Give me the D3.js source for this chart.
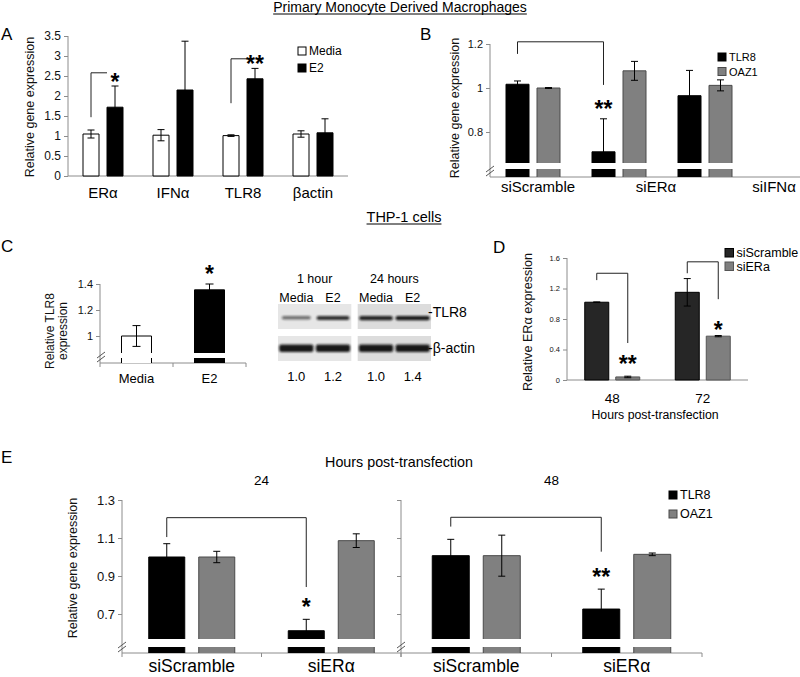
<!DOCTYPE html>
<html>
<head>
<meta charset="utf-8">
<script src="https://cdn.jsdelivr.net/npm/d3@7"></script>
<style>
  body { margin: 0; padding: 0; background: #fff; }
  svg { display: block; }
</style>
</head>
<body>
<svg id="fig" width="800" height="677"></svg>
<script>
// ---------- data ----------
// A: macrophages, media vs E2
const aGenes = ["ERα", "IFNα", "TLR8", "βactin"];
const aMedia = [1.05, 1.02, 1.01, 1.05];
const aMediaErr = [0.10, 0.14, 0.02, 0.08];
const aE2 = [1.72, 2.15, 2.43, 1.08];
const aE2Err = [0.53, 1.22, 0.26, 0.35];
const aTicks = [0, 0.5, 1, 1.5, 2, 2.5, 3, 3.5];

// B: siRNA knockdown in macrophages
const bGroups = ["siScramble", "siERα", "siIFNα"];
const bTLR8 = [1.017, 0.71, 0.965];
const bTLR8Err = [0.015, 0.15, 0.115];
const bOAZ1 = [1.0, 1.078, 1.012];
const bOAZ1Err = [0.002, 0.043, 0.025];
const bTicks = [0.8, 1, 1.2];

// C: THP-1 TLR8
const cGroups = ["Media", "E2"];
const cTLR8 = [1.0, 1.355];
const cTLR8Err = [0.08, 0.045];
const cTicks = [1, 1.2, 1.4];
const blotTimes = ["1 hour", "24 hours"];
const blotLanes = ["Media", "E2"];
const blotRatio = [[1.0, 1.2], [1.0, 1.4]];
const blotTLR8Band = [[0.55, 0.85], [0.9, 0.95]];
const blotActinBand = [[0.95, 0.95], [0.95, 0.95]];

// D: ERα knockdown
const dHours = ["48", "72"];
const dScramble = [1.02, 1.15];
const dScrambleErr = [0.004, 0.18];
const dSiERa = [0.04, 0.575];
const dSiERaErr = [0.01, 0.008];
const dTicks = [0, 0.4, 0.8, 1.2, 1.6];

// E: THP-1 knockdown, 24 and 48 h
const eHours = ["24", "48"];
const eGroups = ["siScramble", "siERα"];
const eTLR8 = [[1.0, 0.612], [1.007, 0.726]];
const eTLR8Err = [[0.07, 0.06], [0.086, 0.105]];
const eOAZ1 = [[1.0, 1.086], [1.007, 1.014]];
const eOAZ1Err = [[0.03, 0.036], [0.108, 0.007]];
const eTicks = [0.7, 0.9, 1.1, 1.3];

// ---------- helpers ----------
const svg = d3.select("#fig");
const FONT = "'Liberation Sans', Arial, Helvetica, sans-serif";
const AX = "#8c8c8c";

svg.append("defs").append("filter").attr("id", "blur")
  .attr("x", "-30%").attr("y", "-100%").attr("width", "160%").attr("height", "300%")
  .append("feGaussianBlur").attr("stdDeviation", 1.3);

function label(x, y, s, size, anchor) {
  return svg.append("text").attr("x", x).attr("y", y)
    .attr("font-family", FONT).attr("font-size", size)
    .attr("text-anchor", anchor || "start").attr("fill", "#000").text(s);
}
function vlabel(cx, cy, s, size) {
  svg.append("text").attr("transform", `translate(${cx},${cy}) rotate(-90)`)
    .attr("text-anchor", "middle").attr("dy", "0.35em")
    .attr("font-family", FONT).attr("font-size", size).attr("fill", "#111").text(s);
}
function title(cx, y, s, size) {
  const t = label(cx, y, s, size, "middle");
  const w = t.node().getComputedTextLength();
  svg.append("line").attr("x1", cx - w / 2).attr("x2", cx + w / 2)
    .attr("y1", y + 2).attr("y2", y + 2).attr("stroke", "#000");
}
function yAxis(y, x0, ticks, size, bottom, showLabels) {
  const g = svg.append("g").attr("transform", `translate(${x0},0)`);
  g.call(d3.axisLeft(y).tickValues(ticks).tickSize(4).tickPadding(3)
    .tickFormat(showLabels === false ? "" : d => String(d)));
  g.attr("font-family", FONT).attr("font-size", size);
  g.select(".domain").remove();
  g.selectAll(".tick line").attr("stroke", AX);
  g.selectAll(".tick text").attr("fill", "#111");
  g.append("line").attr("y1", y(d3.max(ticks))).attr("y2", bottom).attr("stroke", AX);
}
function xAxis(x, y0, x1, withTicks) {
  const r = x.range();
  svg.append("line").attr("x1", r[0]).attr("x2", x1 || r[1])
    .attr("y1", y0).attr("y2", y0).attr("stroke", AX);
  if (withTicks) {
    const pos = x.domain().map(d => x(d)).concat([r[1]]);
    svg.selectAll(null).data(pos).join("line")
      .attr("x1", d => d).attr("x2", d => d).attr("y1", y0).attr("y2", y0 + 4)
      .attr("stroke", AX);
  }
}
function slash(x, y) {
  [0, 4].forEach(o => svg.append("line")
    .attr("x1", x - 4).attr("y1", y + 2 + o).attr("x2", x + 4).attr("y2", y - 4 + o)
    .attr("stroke", "#555"));
}
function star(x, yc, s) {
  svg.append("text").attr("x", x).attr("y", yc + 12).attr("text-anchor", "middle")
    .attr("font-family", FONT).attr("font-size", 23).attr("font-weight", "bold").text(s);
}
function bracket(pts) {
  svg.append("path").attr("d", d3.line()(pts)).attr("fill", "none").attr("stroke", "#222");
}
function legend(x, y, items, size, box) {
  items.forEach((it, i) => {
    const yy = y + i * it.step;
    svg.append("rect").attr("x", x).attr("y", yy - box).attr("width", box).attr("height", box)
      .attr("fill", it.fill).attr("stroke", it.stroke);
    label(x + box + 3, yy, it.name, size);
  });
}
// grouped bars; returns list of drawn bars with positions
function drawBars(x, y, groups, series, o) {
  const n = series.length, span = n * o.w + (n - 1) * o.gap;
  const sub = d3.scaleBand().domain(d3.range(n)).range([-span / 2, span / 2])
    .paddingInner(o.gap / (o.w + o.gap));
  const bottom = o.brk ? o.brk[0] : o.base;
  const items = [];
  groups.forEach((gname, i) => series.forEach((s, j) => items.push({
    i, j, s, v: s.values[i], e: s.errs[i],
    fill: s.fills ? s.fills[i] : s.fill,
    x: x(gname) + x.bandwidth() / 2 + sub(j)
  })));
  const g = svg.append("g");
  g.selectAll("path.bar").data(items).join("path").attr("class", "bar")
    .attr("d", d => `M${d.x},${bottom}V${y(d.v)}H${d.x + o.w}V${bottom}` + (o.brk ? "" : "Z"))
    .attr("fill", d => d.fill).attr("stroke", d => d.s.stroke);
  if (o.brk) {
    g.selectAll("rect.stub").data(items).join("rect").attr("class", "stub")
      .attr("x", d => d.x).attr("y", o.brk[1]).attr("width", o.w)
      .attr("height", o.base - o.brk[1]).attr("fill", d => d.fill);
    g.selectAll("path.side").data(items).join("path").attr("class", "side")
      .attr("d", d => `M${d.x},${o.brk[1]}V${o.base}M${d.x + o.w},${o.brk[1]}V${o.base}`)
      .attr("stroke", d => d.s.stroke);
  }
  const cap = o.cap || 3.5;
  g.selectAll("path.err").data(items.filter(d => d.e > 0)).join("path").attr("class", "err")
    .attr("d", d => {
      const cx = d.x + o.w / 2, t = y(d.v + d.e), b = Math.min(y(d.v - d.e), bottom);
      return `M${cx},${b}V${t}M${cx - cap},${t}H${cx + cap}` +
        (b < bottom - 1 ? `M${cx - cap},${b}H${cx + cap}` : "");
    })
    .attr("stroke", "#000").attr("fill", "none");
  items.w = o.w;
  return items;
}
const at = (items, i, j) => items.find(d => d.i === i && d.j === j);
const mid = (items, i, j) => at(items, i, j).x + items.w / 2;

const BLACK = { fill: "#000", stroke: "#000" };
const GRAY = { fill: "#808080", stroke: "#4a4a4a" };
const WHITE = { fill: "#fff", stroke: "#000" };

// ---------- section titles ----------
title(400, 12, "Primary Monocyte Derived Macrophages", 14);
title(404, 222, "THP-1 cells", 14.5);

// ---------- panel A ----------
label(1, 40, "A", 17);
const yA = d3.scaleLinear().domain([0, 3.5]).range([176, 36]);
const xA = d3.scaleBand().domain(aGenes).range([68, 348]);
yAxis(yA, 68, aTicks, 12, 176);
xAxis(xA, 176);
const barsA = drawBars(xA, yA, aGenes, [
  Object.assign({ values: aMedia, errs: aMediaErr }, WHITE),
  Object.assign({ values: aE2, errs: aE2Err }, BLACK)
], { w: 16, gap: 8, base: 176 });
aGenes.forEach(g => label(xA(g) + xA.bandwidth() / 2, 198, g, 15, "middle"));
vlabel(30, 107, "Relative gene expression", 12.5);
bracket([[mid(barsA, 0, 0), yA(1.47)], [mid(barsA, 0, 0), yA(2.58)], [at(barsA, 0, 1).x, yA(2.58)]]);
bracket([[mid(barsA, 2, 0), yA(1.82)], [mid(barsA, 2, 0), yA(2.93)], [at(barsA, 2, 1).x, yA(2.93)]]);
star(mid(barsA, 0, 1), yA(aE2[0] + aE2Err[0]) - 8, "*");
star(mid(barsA, 2, 1), yA(aE2[2] + aE2Err[2]) - 8, "**");
legend(298, 55, [
  Object.assign({ name: "Media", step: 17 }, WHITE),
  Object.assign({ name: "E2", step: 17 }, BLACK)
], 12, 8);

// ---------- panel B ----------
label(420, 40, "B", 17);
const yB = d3.scaleLinear().domain([0.8, 1.2]).range([132, 44]);
const xB = d3.scaleBand().domain(bGroups).range([490, 748]);
yAxis(yB, 490, bTicks, 11, 177);
xAxis(xB, 177, 800);
const barsB = drawBars(xB, yB, bGroups, [
  Object.assign({ values: bTLR8, errs: bTLR8Err }, BLACK),
  Object.assign({ values: bOAZ1, errs: bOAZ1Err }, GRAY)
], { w: 23, gap: 8, base: 177, brk: [163, 169] });
slash(490, 170);
const xBLab = d3.scalePoint().domain(bGroups).range([538, 774]);
bGroups.forEach(g => label(xBLab(g), 192, g, 15, "middle"));
vlabel(455, 108, "Relative gene expression", 12.5);
bracket([[mid(barsB, 0, 0), yB(1.155)], [mid(barsB, 0, 0), yB(1.21)],
  [mid(barsB, 1, 0), yB(1.21)], [mid(barsB, 1, 0), yB(1.014)]]);
star(mid(barsB, 1, 0), yB(bTLR8[1] + bTLR8Err[1]) - 14, "**");
legend(718, 61, [
  Object.assign({ name: "TLR8", step: 14.5 }, BLACK),
  Object.assign({ name: "OAZ1", step: 14.5 }, GRAY)
], 11, 8);

// ---------- panel C ----------
label(1, 252, "C", 17);
const yC = d3.scaleLinear().domain([1, 1.4]).range([336, 284]);
const xC = d3.scaleBand().domain(cGroups).range([100, 246]);
yAxis(yC, 100, cTicks, 11, 363);
xAxis(xC, 363, null, true);
// media bar white, E2 bar black
const barsC = drawBars(xC, yC, cGroups, [
  { values: cTLR8, errs: cTLR8Err, fills: ["#fff", "#000"], stroke: "#000" }
], { w: 30, gap: 0, base: 363, brk: [353, 358], cap: 4 });
slash(101, 356);
cGroups.forEach(g => label(xC(g) + xC.bandwidth() / 2, 383, g, 13, "middle"));
vlabel(50, 331, "Relative TLR8", 12);
vlabel(63, 331, "expression", 12);
star(mid(barsC, 1, 0), yC(cTLR8[1] + cTLR8Err[1]) - 14, "*");

// western blot
const blotX = d3.scaleBand().domain(blotTimes).range([278, 431]).paddingInner(0.08);
const rows = [{ y: 304, band: blotTLR8Band, by: 318, bh: 4, name: "-TLR8", ly: 317 },
              { y: 336, band: blotActinBand, by: 348, bh: 7, name: "-β-actin", ly: 353 }];
blotTimes.forEach((t, ti) => {
  const x0 = blotX(t), bw = blotX.bandwidth();
  const lane = d3.scaleBand().domain(blotLanes).range([x0, x0 + bw]);
  label(x0 + bw / 2, 283, t, 12.5, "middle");
  blotLanes.forEach(l => label(lane(l) + lane.bandwidth() / 2, 302, l, 12.5, "middle"));
  rows.forEach(r => {
    svg.append("rect").attr("x", x0).attr("y", r.y).attr("width", bw).attr("height", 25)
      .attr("fill", ti === 0 ? "#e6e6e6" : "#dcdcdc");
    blotLanes.forEach((l, li) => {
      const k = r.band[ti][li];
      const bwid = lane.bandwidth() * (0.6 + 0.35 * k);
      svg.append("rect")
        .attr("x", lane(l) + (lane.bandwidth() - bwid) / 2).attr("y", r.by - r.bh / 2)
        .attr("width", bwid).attr("height", r.bh * (0.6 + 0.5 * k)).attr("rx", 2)
        .attr("fill", "#111").attr("opacity", k).attr("filter", "url(#blur)");
    });
  });
  blotLanes.forEach((l, li) =>
    label(lane(l) + lane.bandwidth() / 2, 381, blotRatio[ti][li].toFixed(1), 13, "middle"));
});
rows.forEach(r => label(blotX.range()[1] - 3, r.ly, r.name, 14));

// ---------- panel D ----------
label(493, 253, "D", 17);
const yD = d3.scaleLinear().domain([0, 1.6]).range([380, 258]);
const xD = d3.scaleBand().domain(dHours).range([567, 748]);
yAxis(yD, 567, dTicks, 7.5, 380);
xAxis(xD, 380);
const DSCR = { fill: "#262626", stroke: "#000" };
const DERA = { fill: "#7f7f7f", stroke: "#555" };
const barsD = drawBars(xD, yD, dHours, [
  Object.assign({ values: dScramble, errs: dScrambleErr }, DSCR),
  Object.assign({ values: dSiERa, errs: dSiERaErr }, DERA)
], { w: 24, gap: 7, base: 380 });
dHours.forEach(h => label(xD(h) + xD.bandwidth() / 2, 403, h, 13.5, "middle"));
label(655, 419, "Hours post-transfection", 12.3, "middle");
vlabel(528, 322, "Relative ERα  expression", 12.6);
bracket([[mid(barsD, 0, 0), yD(1.31)], [mid(barsD, 0, 0), yD(1.40)],
  [mid(barsD, 0, 1), yD(1.40)], [mid(barsD, 0, 1), yD(0.485)]]);
bracket([[mid(barsD, 1, 0), yD(1.40)], [mid(barsD, 1, 0), yD(1.55)],
  [mid(barsD, 1, 1), yD(1.55)], [mid(barsD, 1, 1), yD(1.06)]]);
star(mid(barsD, 0, 1), yD(dSiERa[0] + dSiERaErr[0]) - 16, "**");
star(mid(barsD, 1, 1), yD(dSiERa[1] + dSiERaErr[1]) - 10, "*");
legend(725, 257, [
  Object.assign({ name: "siScramble", step: 13.5 }, DSCR),
  Object.assign({ name: "siERa", step: 13.5 }, DERA)
], 12.5, 8.5);

// ---------- panel E ----------
label(1, 463, "E", 17);
label(399, 467, "Hours post-transfection", 14.3, "middle");
const yE = d3.scaleLinear().domain([0.7, 1.3]).range([614, 500]);
const xE = [d3.scaleBand().domain(eGroups).range([122, 401]),
            d3.scaleBand().domain(eGroups).range([401, 702])];
const eBar = [36, 37];
const eBrackets = [[1.105, 1.207, 0.842], [1.16, 1.209, 1.028]];
const eStars = ["*", "**"];
eHours.forEach((h, k) => {
  const x = xE[k], r = x.range();
  yAxis(yE, r[0], eTicks, 13, 653, k === 0);
  xAxis(x, 653, null, true);
  slash(r[0], 646);
  label((r[0] + r[1]) / 2, 485, h, 13.5, "middle");
  const bars = drawBars(x, yE, eGroups, [
    Object.assign({ values: eTLR8[k], errs: eTLR8Err[k] }, BLACK),
    Object.assign({ values: eOAZ1[k], errs: eOAZ1Err[k] }, GRAY)
  ], { w: eBar[k], gap: 14, base: 653, brk: [639, 647] });
  eGroups.forEach(g => label(x(g) + x.bandwidth() / 2, 672, g, 17.5, "middle"));
  const b = eBrackets[k];
  bracket([[mid(bars, 0, 0), yE(b[0])], [mid(bars, 0, 0), yE(b[1])],
    [mid(bars, 1, 0), yE(b[1])], [mid(bars, 1, 0), yE(b[2])]]);
  star(mid(bars, 1, 0), yE(eTLR8[k][1] + eTLR8Err[k][1]) - 16, eStars[k]);
});
vlabel(73, 568, "Relative gene expression", 12.5);
legend(669, 499, [
  Object.assign({ name: "TLR8", step: 19 }, BLACK),
  Object.assign({ name: "OAZ1", step: 19 }, GRAY)
], 12.5, 8);
</script>
</body>
</html>
